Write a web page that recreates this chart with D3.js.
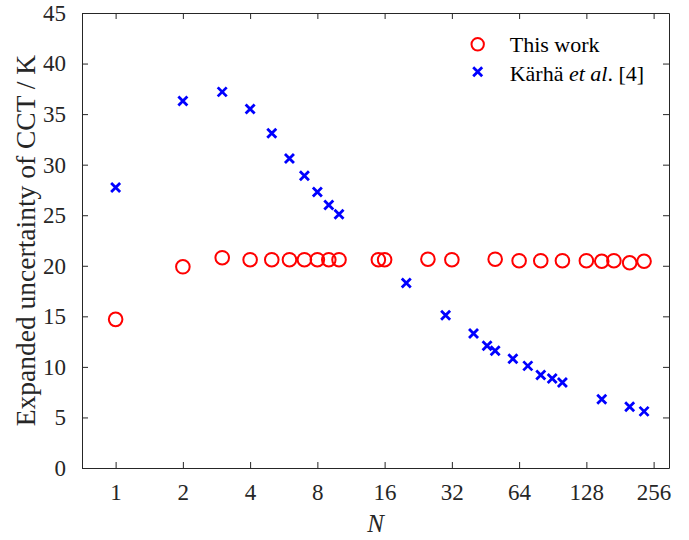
<!DOCTYPE html>
<html>
<head>
<meta charset="utf-8">
<script src="https://cdn.jsdelivr.net/npm/d3@7"></script>
<style>
  body { margin: 0; background: #fff; }
</style>
</head>
<body>
<div id="chart"></div>
<script>
// Data
const workN = [1, 2, 3, 4, 5, 6, 7, 8, 9, 10, 15, 16, 25, 32, 50, 64, 80, 100, 128, 150, 170, 200, 232];
const workU = [14.7, 19.9, 20.8, 20.6, 20.6, 20.6, 20.6, 20.6, 20.6, 20.6, 20.6, 20.6, 20.65, 20.6, 20.65, 20.5, 20.5, 20.5, 20.5, 20.45, 20.5, 20.3, 20.45];

const karhaN = [1, 2, 3, 4, 5, 6, 7, 8, 9, 10, 20, 30, 40, 46, 50, 60, 70, 80, 90, 100, 150, 200, 232];
const karhaU = [27.75, 36.3, 37.2, 35.5, 33.1, 30.6, 28.9, 27.3, 26.0, 25.1, 18.3, 15.1, 13.3, 12.1, 11.6, 10.8, 10.1, 9.2, 8.85, 8.45, 6.8, 6.05, 5.6];

const xTicks = [1, 2, 4, 8, 16, 32, 64, 128, 256];
const yTicks = [0, 5, 10, 15, 20, 25, 30, 35, 40, 45];

const W = 689, H = 540;
const margin = { top: 13, right: 20, bottom: 72, left: 82 };
const width = W - margin.left - margin.right;
const height = H - margin.top - margin.bottom;
const serif = "'Liberation Serif', 'Times New Roman', Times, serif";

const svg = d3.select("#chart").append("svg")
    .attr("width", W)
    .attr("height", H)
    .style("font-family", serif);

const g = svg.append("g")
    .attr("transform", "translate(" + margin.left + "," + margin.top + ")");

// Scales
const x = d3.scaleLog().base(2)
    .domain([Math.SQRT1_2, 300])
    .range([0, width]);

const y = d3.scaleLinear()
    .domain([0, 45])
    .range([height, 0]);

const axisColor = "#262626";

// Axes (ticks pointing inward, mirrored on top/right)
const xAxis = d3.axisBottom(x).tickValues(xTicks).tickFormat(d3.format("d")).tickSizeInner(-6).tickSizeOuter(0).tickPadding(16);
const yAxis = d3.axisLeft(y).tickValues(yTicks).tickSizeInner(-6).tickSizeOuter(0).tickPadding(16);

g.append("g")
    .attr("class", "x-axis")
    .attr("transform", "translate(0," + height + ")")
    .call(xAxis);

g.append("g")
    .attr("class", "y-axis")
    .call(yAxis);

g.append("g")
    .attr("class", "x-axis-top")
    .call(d3.axisTop(x).tickValues(xTicks).tickSizeInner(-6).tickSizeOuter(0).tickFormat(""));

g.append("g")
    .attr("class", "y-axis-right")
    .attr("transform", "translate(" + width + ",0)")
    .call(d3.axisRight(y).tickValues(yTicks).tickSizeInner(-6).tickSizeOuter(0).tickFormat(""));

g.selectAll(".domain, .tick line")
    .attr("stroke", axisColor)
    .attr("stroke-width", 1);

g.selectAll(".x-axis, .y-axis, .x-axis-top, .y-axis-right")
    .attr("font-family", null)
    .attr("font-size", null);

g.selectAll(".tick text")
    .style("font-family", serif)
    .style("font-size", "23px")
    .attr("fill", axisColor);

g.select(".x-axis").selectAll(".tick text").attr("dy", "0.71em");

// Axis labels
g.append("text")
    .attr("x", width / 2)
    .attr("y", height + 64)
    .style("text-anchor", "middle")
    .style("font-family", serif)
    .style("font-size", "25px")
    .style("font-style", "italic")
    .attr("fill", axisColor)
    .text("N");

g.append("text")
    .attr("transform", "rotate(-90)")
    .attr("x", -height / 2)
    .attr("y", 35 - margin.left)
    .style("text-anchor", "middle")
    .style("font-family", serif)
    .style("font-size", "27.5px")
    .attr("fill", axisColor)
    .text("Expanded uncertainty of CCT / K");

// Markers
const workData = workN.map((n, i) => ({ n: n, u: workU[i] }));
const karhaData = karhaN.map((n, i) => ({ n: n, u: karhaU[i] }));

const crossPath = "M-4.5,-4.5L4.5,4.5M-4.5,4.5L4.5,-4.5";

g.selectAll(".karha")
    .data(karhaData)
    .join("path")
    .attr("class", "karha")
    .attr("d", crossPath)
    .attr("transform", d => "translate(" + x(d.n) + "," + y(d.u) + ")")
    .attr("fill", "none")
    .attr("stroke", "#0000ff")
    .attr("stroke-width", 2.8);

g.selectAll(".work")
    .data(workData)
    .join("circle")
    .attr("class", "work")
    .attr("cx", d => x(d.n))
    .attr("cy", d => y(d.u))
    .attr("r", 6.8)
    .attr("fill", "none")
    .attr("stroke", "#ff0000")
    .attr("stroke-width", 2);

// Legend
const legend = g.append("g")
    .attr("transform", "translate(" + (477.7 - margin.left) + "," + (44.3 - margin.top) + ")");

legend.append("circle")
    .attr("r", 6.2)
    .attr("fill", "none")
    .attr("stroke", "#ff0000")
    .attr("stroke-width", 2);

legend.append("text")
    .attr("x", 32)
    .attr("y", 8)
    .style("font-family", serif)
    .style("font-size", "22px")
    .attr("fill", "#000")
    .text("This work");

legend.append("path")
    .attr("d", crossPath)
    .attr("transform", "translate(0,27.4)")
    .attr("fill", "none")
    .attr("stroke", "#0000ff")
    .attr("stroke-width", 2.8);

const t2 = legend.append("text")
    .attr("x", 32)
    .attr("y", 36.5)
    .style("font-family", serif)
    .style("font-size", "22px")
    .attr("fill", "#000");
t2.append("tspan").text("Kärhä ");
t2.append("tspan").style("font-style", "italic").text("et al");
t2.append("tspan").text(". [4]");
</script>
</body>
</html>
